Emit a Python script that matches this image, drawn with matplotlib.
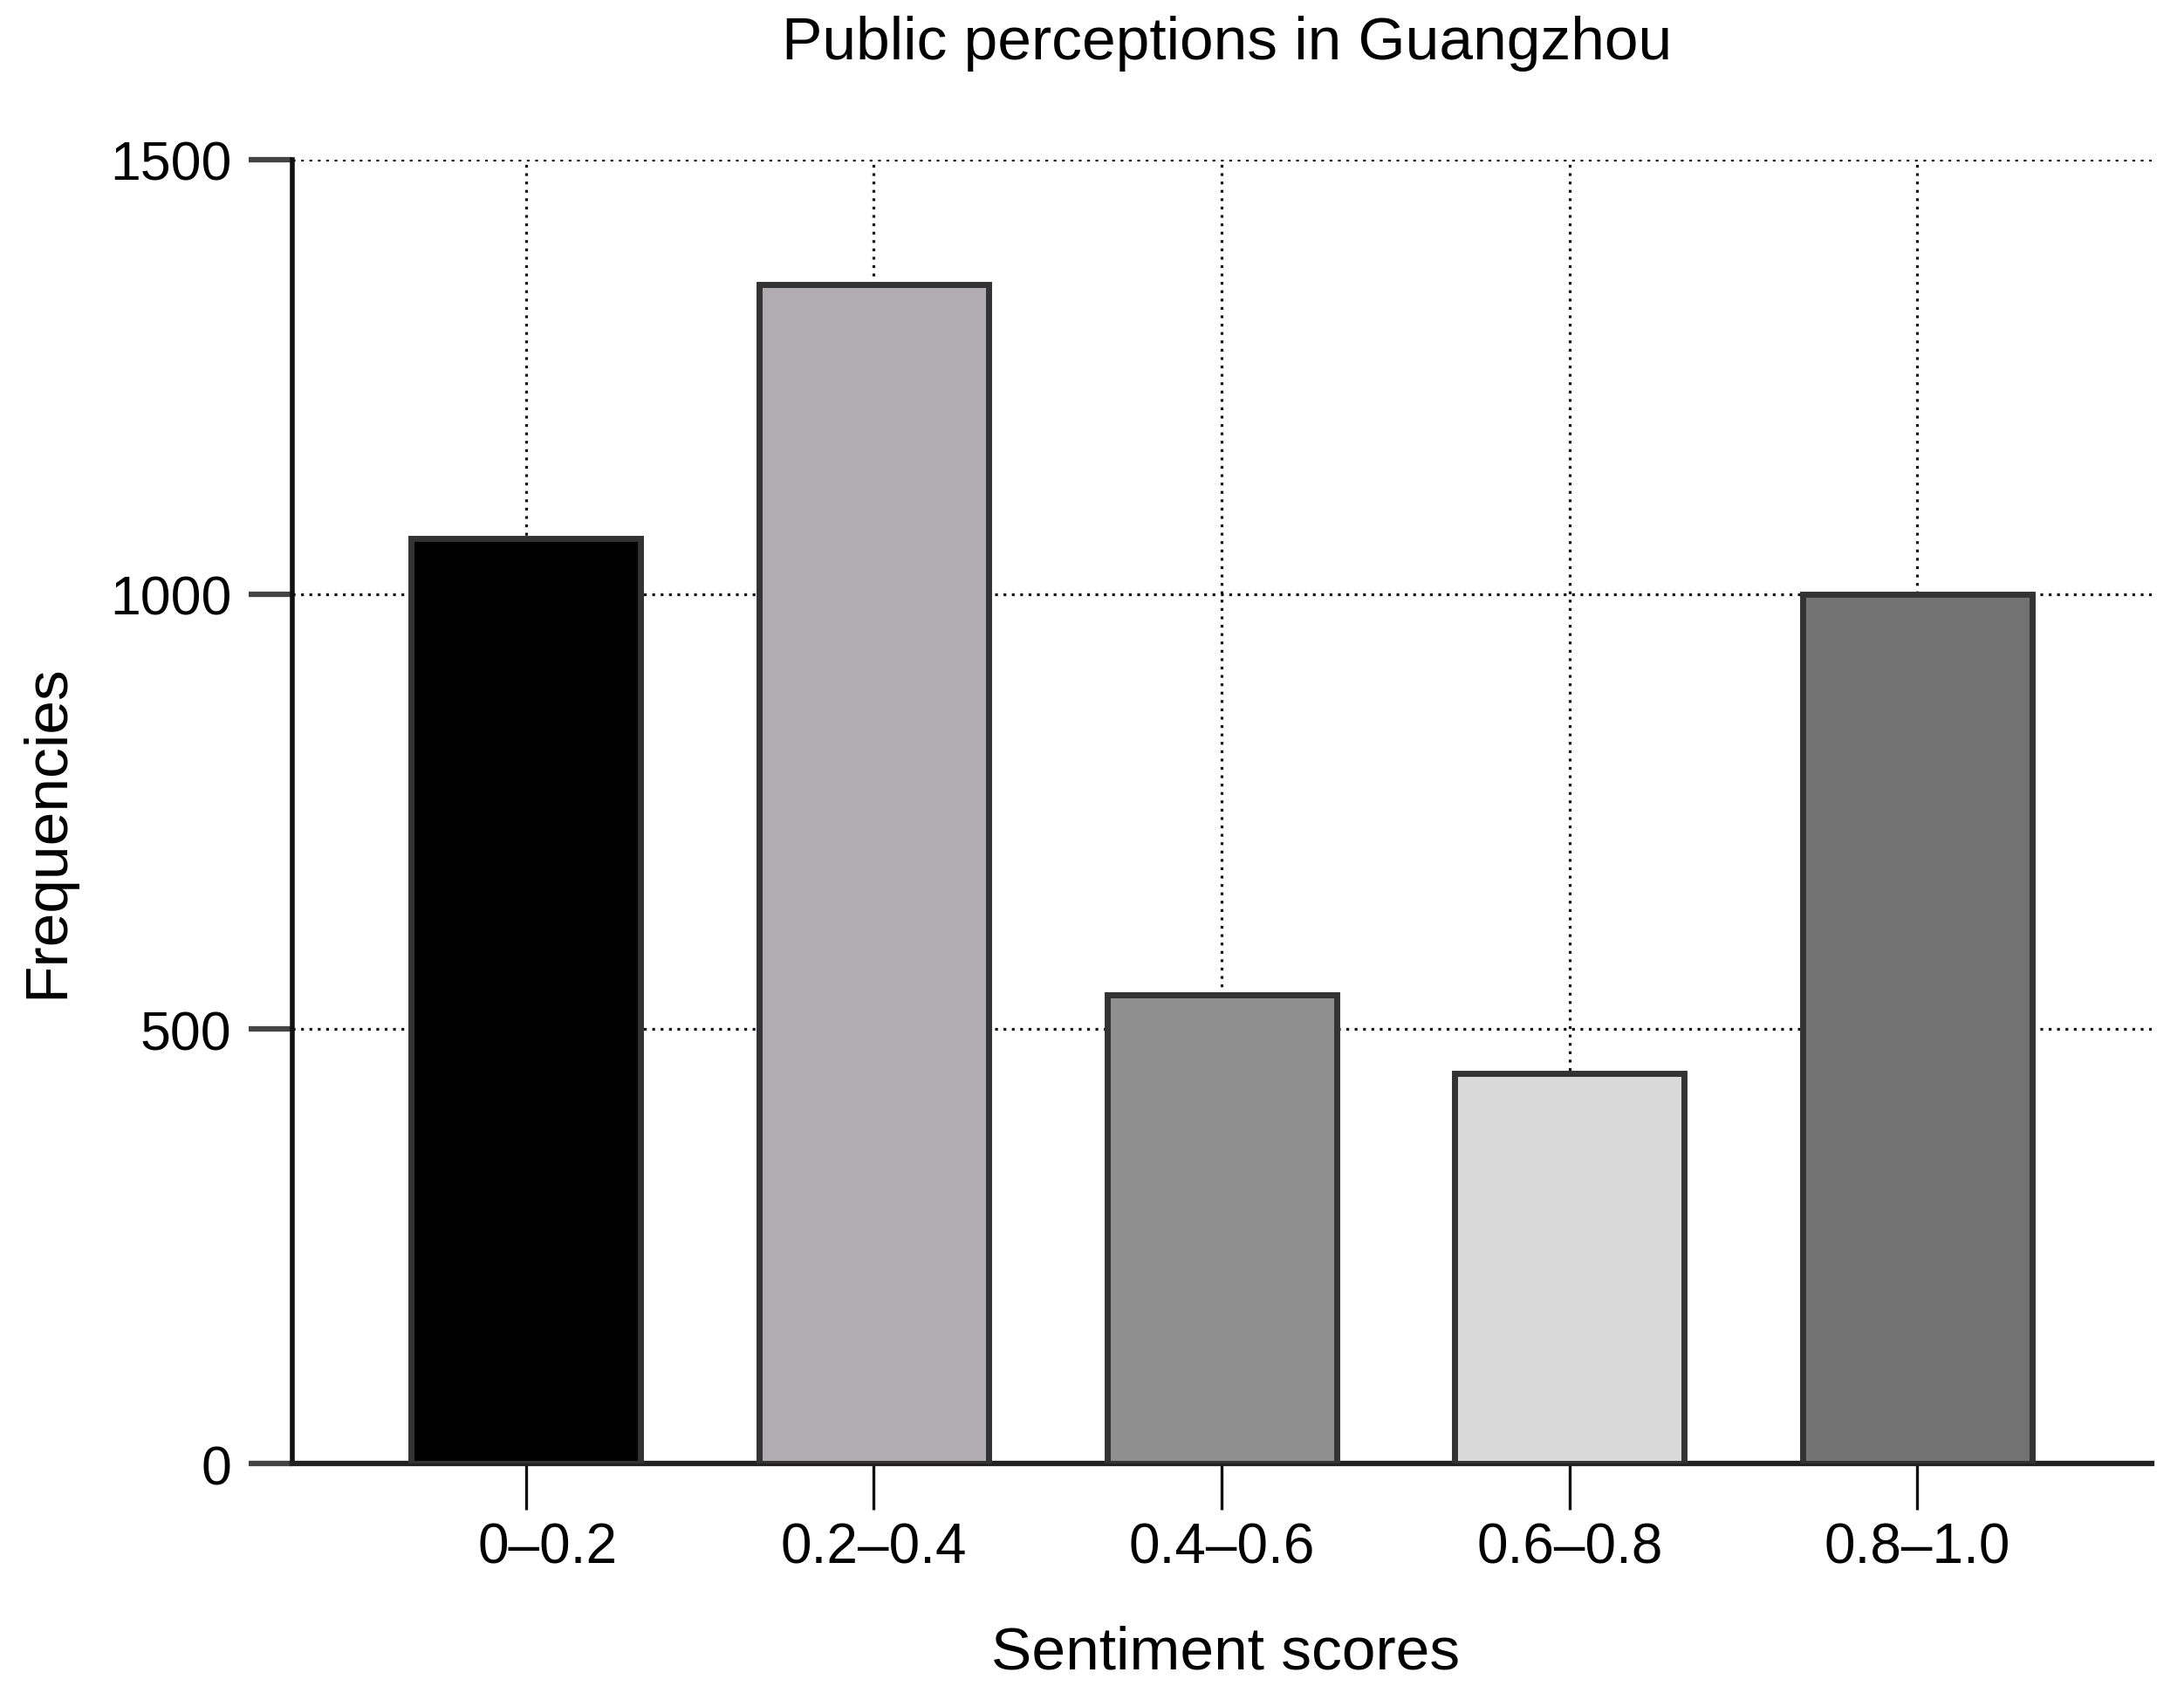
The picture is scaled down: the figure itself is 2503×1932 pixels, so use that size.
import numpy as np
import matplotlib
matplotlib.use('Agg')
import matplotlib.pyplot as plt
from matplotlib.transforms import ScaledTranslation

# ----- Data
categories = ['0\u20130.2', '0.2\u20130.4', '0.4\u20130.6', '0.6\u20130.8', '0.8\u20131.0']
frequencies = [1064, 1356, 539, 449, 1000]
bar_colors = ['#000000', '#B0ACB0', '#8F8F8F', '#D9D9D9', '#737373']
y_ticks = [0, 500, 1000, 1500]

title = 'Public perceptions in Guangzhou'
x_label = 'Sentiment scores'
y_label = 'Frequencies'

plt.rcParams['font.family'] = ['Liberation Sans', 'DejaVu Sans']

W, H = 2503, 1933
fig = plt.figure(figsize=(W / 100, H / 100), dpi=100)

# axes box in pixels: left 335, right 2466, top 184, bottom 1678
ax = fig.add_axes([335 / W, 1 - 1678 / H, (2466 - 335) / W, (1678 - 184) / H])

x = np.arange(len(categories))
ax.bar(x, frequencies, width=0.66, color=bar_colors, edgecolor='#333333',
       linewidth=5, zorder=3)

ax.set_xlim(-0.672, len(categories) - 1 + 0.674)
ax.set_ylim(0, 1500)
ax.set_xticks(x)
ax.set_xticklabels(categories)
ax.set_yticks(y_ticks)

# ----- Grid (dotted, behind the bars)
ax.set_axisbelow(True)
ax.grid(True, which='major', color='#111111', linewidth=2.3,
        linestyle=(0, (1, 2)))

# ----- Spines and ticks
for side in ['top', 'right']:
    ax.spines[side].set_visible(False)
ax.spines['left'].set_linewidth(4)
ax.spines['left'].set_color('#111111')
ax.spines['bottom'].set_linewidth(4.5)
ax.spines['bottom'].set_color('#222222')

ax.tick_params(axis='y', direction='out', length=36, width=4.5, color='#444444',
               pad=14, labelsize=45)
ax.tick_params(axis='x', direction='out', length=38, width=2.4, color='#111111',
               pad=10, labelsize=46)

# first label sits a little right of its tick in the original
# (done after tick_params, which resets the label transforms)
first = ax.xaxis.get_major_ticks()[0].label1
first.set_transform(first.get_transform() + ScaledTranslation(0.25, 0, fig.dpi_scale_trans))

# ----- Labels
fig.text(1406 / W, 1 - 68 / H, title, ha='center', va='baseline', fontsize=50)
fig.text(1405 / W, 1 - 1913 / H, x_label, ha='center', va='baseline', fontsize=50)
fig.text(86 / W, 1 - 953 / H, y_label, ha='right', va='center', rotation=90,
         fontsize=50)

fig.savefig('out.png', dpi=100, facecolor='white')
